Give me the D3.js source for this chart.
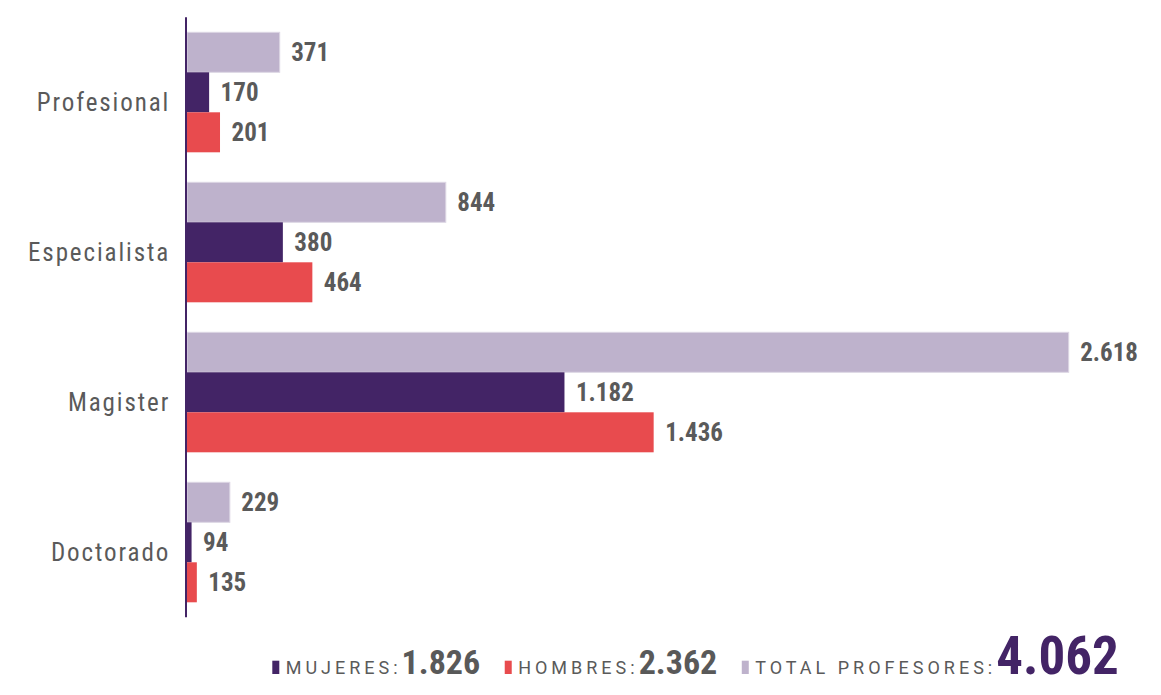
<!DOCTYPE html>
<html>
<head>
<meta charset="utf-8">
<script src="https://cdn.jsdelivr.net/npm/d3@7"></script>
<style>
  html, body { margin: 0; padding: 0; background: #ffffff; }
  svg { display: block; }
</style>
</head>
<body>
<svg id="chart" width="1161" height="695"></svg>
<script>
// ---- data ----
const categories = ["Profesional", "Especialista", "Magister", "Doctorado"];
const seriesKeys = ["total", "mujeres", "hombres"];
const totalValues   = [371, 844, 2618, 229];
const mujeresValues = [170, 380, 1182, 94];
const hombresValues = [201, 464, 1436, 135];
const legendLabels  = ["MUJERES:", "HOMBRES:", "TOTAL PROFESORES:"];
const legendValues  = [1826, 2362, 4062];
const axisDomainMin = 107;   // value at which the bars start

// ---- styles ----
const colors = { total: "#beb2cc", mujeres: "#432466", hombres: "#e84b4e" };
const legendColors = [colors.mujeres, colors.hombres, colors.total];
const numFont = "'Liberation Sans Narrow', 'Roboto Condensed', 'DejaVu Sans Condensed', sans-serif";
const textGray = "#5a5a5a";

const locale = d3.formatLocale({ decimal: ",", thousands: ".", grouping: [3], currency: ["$", ""] });
const fmt = locale.format(",d");

const rows = categories.map((c, i) => ({
  category: c,
  total: totalValues[i],
  mujeres: mujeresValues[i],
  hombres: hombresValues[i]
}));

const svg = d3.select("#chart");
const x0 = 187;
const x = d3.scaleLinear()
  .domain([axisDomainMin, d3.max(totalValues)])
  .range([x0, 1068.7]);

const y = d3.scaleBand()
  .domain(categories)
  .range([17.3, 617.3])
  .paddingInner(0.2)
  .paddingOuter(0.1);

const ySub = d3.scaleBand()
  .domain(seriesKeys)
  .range([0, y.bandwidth()])
  .padding(0);

const barW = v => Math.abs(x(v) - x0);

// groups
const g = svg.append("g");
const groups = g.selectAll("g.grp")
  .data(rows)
  .join("g")
  .attr("class", "grp")
  .attr("transform", d => `translate(0,${y(d.category)})`);

groups.selectAll("rect")
  .data(d => seriesKeys.map(k => ({ key: k, value: d[k] })))
  .join("rect")
  .attr("x", x0)
  .attr("y", d => ySub(d.key))
  .attr("width", d => barW(d.value))
  .attr("height", ySub.bandwidth())
  .attr("fill", d => colors[d.key])
  .attr("stroke", d => d.key === "total" ? "#ddd6e4" : "none")
  .attr("stroke-width", 1);

groups.selectAll("text.val")
  .data(d => seriesKeys.map(k => ({ key: k, value: d[k] })))
  .join("text")
  .attr("class", "val")
  .attr("x", d => x0 + barW(d.value) + 11.5)
  .attr("y", d => ySub(d.key) + ySub.bandwidth() / 2 + 8.7)
  .attr("font-family", numFont)
  .attr("font-weight", "bold")
  .attr("font-size", 25)
  .attr("fill", textGray)
  .text(d => fmt(d.value));

// category labels
svg.append("g")
  .selectAll("text")
  .data(categories)
  .join("text")
  .attr("x", 170.2)
  .attr("y", d => y(d) + y.bandwidth() / 2 + 18.3)
  .attr("text-anchor", "end")
  .attr("font-family", "'Liberation Sans Narrow', 'Roboto Condensed', Roboto, sans-serif")
  .attr("font-size", 25)
  .attr("letter-spacing", 1.9)
  .attr("fill", textGray)
  .text(d => d);

// axis line
svg.append("line")
  .attr("x1", 186).attr("x2", 186)
  .attr("y1", y.range()[0]).attr("y2", y.range()[1])
  .attr("stroke", "#432466")
  .attr("stroke-width", 2);

// legend
const legend = svg.append("g");
let lx = 272.3;
const baseY = 674;
const valueSizes = [34, 34, 53];
const valueColors = ["#595959", "#595959", "#432466"];
legendLabels.forEach((lab, i) => {
  legend.append("rect")
    .attr("x", lx).attr("y", baseY - 13.3)
    .attr("width", 7).attr("height", 13.3)
    .attr("fill", legendColors[i]);
  const t = legend.append("text")
    .attr("x", lx + 13.4)
    .attr("y", baseY);
  t.append("tspan")
    .attr("font-family", "Roboto, sans-serif")
    .attr("font-size", 18)
    .attr("letter-spacing", 4)
    .attr("fill", textGray)
    .text(lab);
  t.append("tspan")
    .attr("font-family", numFont)
    .attr("font-weight", "bold")
    .attr("font-size", valueSizes[i])
    .attr("fill", valueColors[i])
    .text(fmt(legendValues[i]));
  const bb = t.node().getBBox();
  lx = bb.x + bb.width + 24.5;
});
</script>
</body>
</html>
